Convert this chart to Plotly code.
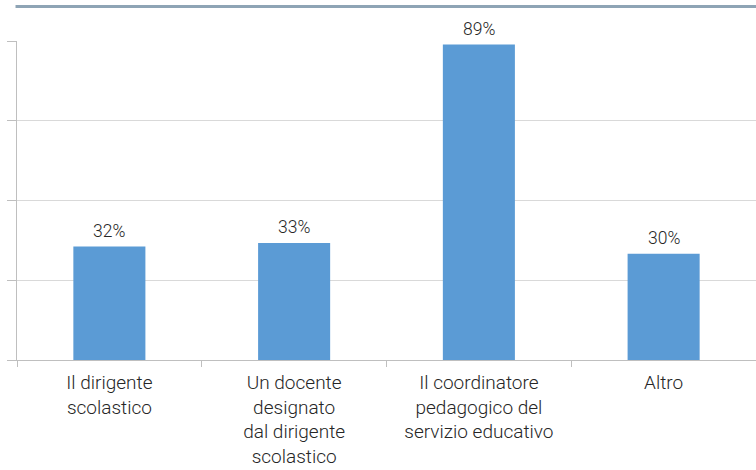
import plotly.graph_objects as go

categories = [
    "Il dirigente<br>scolastico",
    "Un docente<br>designato<br>dal dirigente<br>scolastico",
    "Il coordinatore<br>pedagogico del<br>servizio educativo",
    "Altro",
]
values = [32, 33, 89, 30]

text_color = "#262626"
bar_color = "#5b9bd5"
grid_color = "#d9d9d9"
axis_color = "#bfbfbf"

fig = go.Figure(
    go.Bar(
        x=categories,
        y=values,
        width=0.39,
        marker=dict(color=bar_color, line=dict(width=0)),
        hoverinfo="skip",
    )
)

# Percentage labels above each bar
for cat, v in zip(categories, values):
    fig.add_annotation(
        x=cat,
        y=v,
        text=f"{v}%",
        showarrow=False,
        yanchor="bottom",
        yshift=4,
        font=dict(family="Roboto", size=17.5, color=text_color, weight=300),
    )

fig.update_layout(
    width=756,
    height=470,
    margin=dict(l=17, r=0, t=41, b=110),
    paper_bgcolor="white",
    plot_bgcolor="white",
    showlegend=False,
    font=dict(family="Roboto", size=19, color=text_color, weight=300),
)

fig.update_xaxes(
    type="category",
    range=[-0.5, 3.5],
    showline=True,
    linecolor=axis_color,
    linewidth=1,
    ticks="outside",
    tickson="boundaries",
    ticklen=6,
    tickcolor=axis_color,
    showgrid=False,
    ticklabelstandoff=5,
    tickfont=dict(family="Roboto", size=19, color=text_color, weight=300),
)

fig.update_yaxes(
    range=[0, 90],
    dtick=22.5,
    tick0=0,
    showticklabels=False,
    showgrid=True,
    gridcolor=grid_color,
    gridwidth=1,
    showline=True,
    linecolor=axis_color,
    ticks="outside",
    ticklen=9,
    tickcolor=axis_color,
    zeroline=False,
)

# Header rule above the plot
fig.add_shape(
    type="line",
    xref="paper",
    yref="paper",
    x0=-0.002,
    x1=1,
    y0=1.108,
    y1=1.108,
    line=dict(color="#8ea4b5", width=3),
)

fig.write_html("out.html")
